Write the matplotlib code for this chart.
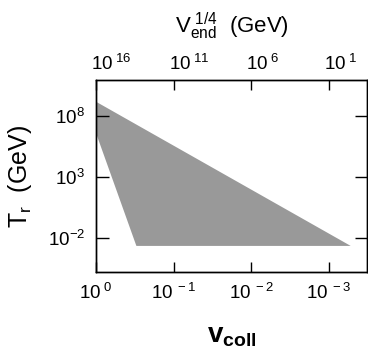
import numpy as np
import matplotlib.pyplot as plt
import matplotlib.transforms as mtransforms

plt.rcParams['font.family'] = 'Liberation Sans'
plt.rcParams['mathtext.fontset'] = 'custom'
plt.rcParams['mathtext.rm'] = 'Liberation Sans'
plt.rcParams['mathtext.it'] = 'Liberation Sans:italic'
plt.rcParams['mathtext.bf'] = 'Liberation Sans:bold'

# obszar dozwolony (wierzcholki wielokata) w jednostkach log10
log_v = [0.0, 0.0, -0.52, -3.28]
log_T = [9.17, 6.6, -2.66, -2.66]

v_ticks = [1, 0.1, 0.01, 0.001]
v_labels = ['0', '-1', '-2', '-3']
T_ticks = [1e8, 1e3, 1e-2]
T_labels = ['8', '3', '-2']
V_labels = ['16', '11', '6', '1']

fig = plt.figure(figsize=(3.68, 3.58), dpi=100)
ax = fig.add_axes([96/368, 86/358, 271/368, 192/358])

ax.fill(10**np.array(log_v), 10**np.array(log_T), color='#999999', lw=0)

ax.set_xscale('log')
ax.set_yscale('log')
ax.set_xlim(1, 10**-3.49)
ax.set_ylim(10**-4.8, 10**10.95)

ax.set_xticks(v_ticks)
ax.set_xticklabels([r'$\mathregular{10^{\ %s}}$' % s for s in v_labels])
ax.set_yticks(T_ticks)
ax.set_yticklabels([r'$\mathregular{10^{%s}}$' % s for s in T_labels])
ax.minorticks_off()
ax.tick_params(axis='x', direction='in', length=7, width=1, labelsize=13.5, pad=8, top=False)
ax.tick_params(axis='y', direction='in', length=9, width=1, labelsize=13.5, pad=8, right=True)

ax2 = ax.twiny()
ax2.set_xscale('log')
ax2.set_xlim(ax.get_xlim())
ax2.set_xticks(v_ticks)
ax2.set_xticklabels([r'$\mathregular{10^{\ %s}}$' % s for s in V_labels])
ax2.minorticks_off()
ax2.tick_params(axis='x', direction='in', length=7, width=1, labelsize=13.5, pad=4)
off = mtransforms.ScaledTranslation(-5/100, 0, fig.dpi_scale_trans)
for lab in ax2.get_xticklabels():
    lab.set_horizontalalignment('left')
    lab.set_transform(lab.get_transform() + off)

for a in (ax, ax2):
    for s in a.spines.values():
        s.set_linewidth(1)

ax.set_xlabel(r'$\mathbf{v_{coll}}$', fontsize=20, labelpad=14)
ax.set_ylabel(r'$\mathregular{T_r}$  (GeV)', fontsize=18, labelpad=10)
ax2.set_xlabel(r'$\mathregular{V_{end}^{\ 1/4}}$  (GeV)', fontsize=16, labelpad=15)

plt.savefig('out.png', dpi=100)
